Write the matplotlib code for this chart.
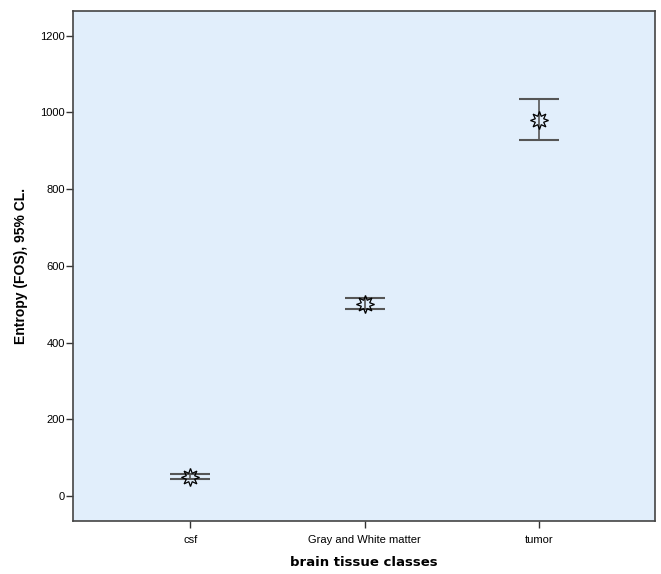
import matplotlib
matplotlib.use('Agg')
import matplotlib.pyplot as plt

# Mean entropy and 95% CI bounds per tissue class
classes = ['csf', 'Gray and White matter', 'tumor']
means = [50, 501, 981]
ci_low = [44, 487, 927]
ci_high = [56, 515, 1034]

fig = plt.figure(figsize=(6.61, 5.74), dpi=100)
ax = fig.add_axes([0.111, 0.0925, 0.88, 0.888])
ax.set_facecolor('#E1EEFB')

x = list(range(len(classes)))
lower_err = [m - lo for m, lo in zip(means, ci_low)]
upper_err = [hi - m for m, hi in zip(means, ci_high)]

ax.errorbar(x, means, yerr=[lower_err, upper_err], fmt='none',
            ecolor='#555555', elinewidth=1.2, capsize=14.4, capthick=1.5, zorder=2)
ax.plot(x, means, linestyle='none', marker=(8, 1, 0), markersize=13,
        markerfacecolor='none', markeredgecolor='black', markeredgewidth=0.9, zorder=3)

ax.set_xlim(-0.67, 2.665)
ax.set_ylim(-65, 1264)
ax.set_xticks(x)
ax.set_xticklabels(classes)
ax.set_yticks([0, 200, 400, 600, 800, 1000, 1200])

for lbl in ax.get_xticklabels() + ax.get_yticklabels():
    lbl.set_family('Liberation Sans')
    lbl.set_fontsize(8)
ax.tick_params(axis='both', direction='out', length=5, width=1, colors='#333333', labelcolor='black')
ax.tick_params(axis='y', pad=1)
ax.tick_params(axis='x', pad=5)

for s in ax.spines.values():
    s.set_color('#444444')
    s.set_linewidth(1.2)

ax.set_ylabel('Entropy (FOS), 95% CL.', fontsize=10, fontweight='bold',
              family='Liberation Sans', labelpad=9)
ax.set_xlabel('brain tissue classes', fontsize=9.5, fontweight='bold', labelpad=8)

fig.savefig('out.png', dpi=100)
